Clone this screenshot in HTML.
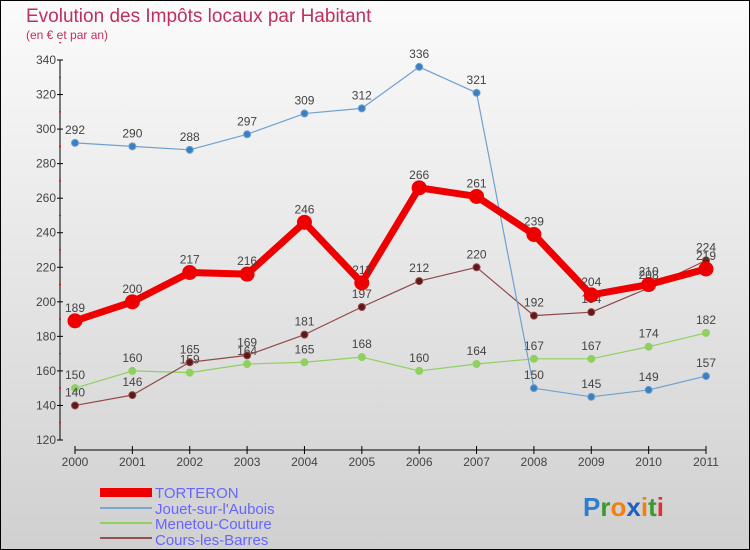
<!DOCTYPE html>
<html><head><meta charset="utf-8"><style>
body{margin:0;width:750px;height:550px;overflow:hidden;font-family:"Liberation Sans",sans-serif}
svg{display:block}
</style></head><body>
<svg id="chart" width="750" height="550" xmlns="http://www.w3.org/2000/svg">
<defs><linearGradient id="bg" x1="0" y1="0" x2="0" y2="1"><stop offset="0" stop-color="#fbfbfb"/><stop offset="1" stop-color="#d0d0d0"/></linearGradient></defs>
<rect x="0.5" y="0.5" width="749" height="549" fill="url(#bg)" stroke="#000"/>
<text x="26" y="22" font-size="19" fill="#c0305a">Evolution des Impôts locaux par Habitant</text>
<text x="26" y="39" font-size="12" fill="#c0305a">(en € et par an)</text>
<g id="axes"></g><g id="series"></g>
<g>
<rect x="100" y="488" width="52" height="9" fill="#e00"/>
<line x1="100" y1="508" x2="152" y2="508" stroke="#7aa7d0" stroke-width="2"/>
<line x1="100" y1="523" x2="152" y2="523" stroke="#90d060" stroke-width="2"/>
<line x1="100" y1="538" x2="152" y2="538" stroke="#905050" stroke-width="2"/>
<g font-size="15" fill="#6666ff">
<text x="155" y="498">TORTERON</text>
<text x="155" y="514">Jouet-sur-l'Aubois</text>
<text x="155" y="529">Menetou-Couture</text>
<text x="155" y="545">Cours-les-Barres</text>
</g></g>
<g font-size="26" font-weight="bold">
<text x="583" y="516"><tspan fill="#2a7fd0">P</tspan><tspan fill="#3a9a30">r</tspan><tspan fill="#f08010">o</tspan><tspan fill="#2060c0">x</tspan><tspan fill="#f08010">i</tspan><tspan fill="#3a9a30">t</tspan><tspan fill="#e03030">i</tspan></text>
</g>
</svg>
<script>
const years=["2000","2001","2002","2003","2004","2005","2006","2007","2008","2009","2010","2011"];
const yTicks=[120,140,160,180,200,220,240,260,280,300,320,340];
const torteron=[189,200,217,216,246,211,266,261,239,204,210,219];
const jouet=[292,290,288,297,309,312,336,321,150,145,149,157];
const menetou=[150,160,159,164,165,168,160,164,167,167,174,182];
const cours=[140,146,165,169,181,197,212,220,192,194,208,224];
const NS="http://www.w3.org/2000/svg";
const X=i=>75+i*(706-75)/11;
const Y=v=>440-(v-120)*(380/220);
function mk(t,a,p){const e=document.createElementNS(NS,t);for(const k in a)e.setAttribute(k,a[k]);p.appendChild(e);return e;}
const ax=document.getElementById('axes');
const yl=mk('line',{x1:60,y1:60,x2:60,y2:440,stroke:'#000'},ax);


yTicks.forEach(v=>{mk('line',{x1:57,x2:63,y1:Y(v),y2:Y(v),stroke:'#000'},ax);
mk('line',{x1:59,x2:61,y1:Y(v+10),y2:Y(v+10),stroke:'#e00'},ax);
const t=mk('text',{x:56,y:Y(v)+4,'font-size':12,fill:'#444','text-anchor':'end'},ax);t.textContent=v;

});
const xl=mk('line',{x1:75,y1:450,x2:706,y2:450,stroke:'#000'},ax);


years.forEach((y,i)=>{mk('line',{x1:X(i),x2:X(i),y1:446,y2:454,stroke:'#000'},ax);
const t=mk('text',{x:X(i),y:466,'font-size':12,fill:'#444','text-anchor':'middle'},ax);t.textContent=y;

});
const sg=document.getElementById('series');
function draw(d,name,color,w,r,dot){const g=mk('g',{},sg);


mk('polyline',{points:d.map((v,i)=>X(i)+','+Y(v)).join(' '),fill:'none',stroke:color,'stroke-width':w,'stroke-linejoin':'round'},g);
d.forEach((v,i)=>{const c=mk('circle',{cx:X(i),cy:Y(v),r:r,fill:dot,stroke:color,'stroke-width':1},g);


const t=mk('text',{x:X(i),y:Y(v)-9,'font-size':12,fill:'#444','text-anchor':'middle'},g);t.textContent=v;

});}
draw(menetou,'menetou','#90d060',1.2,3.5,'#90d060');
draw(cours,'cours','#904848',1.2,3.5,'#601818');
draw(jouet,'jouet','#6fa0d0',1.2,3.5,'#3a80c0');
draw(torteron,'torteron','#e00',7,7,'#e00');
</script>
</body></html>
